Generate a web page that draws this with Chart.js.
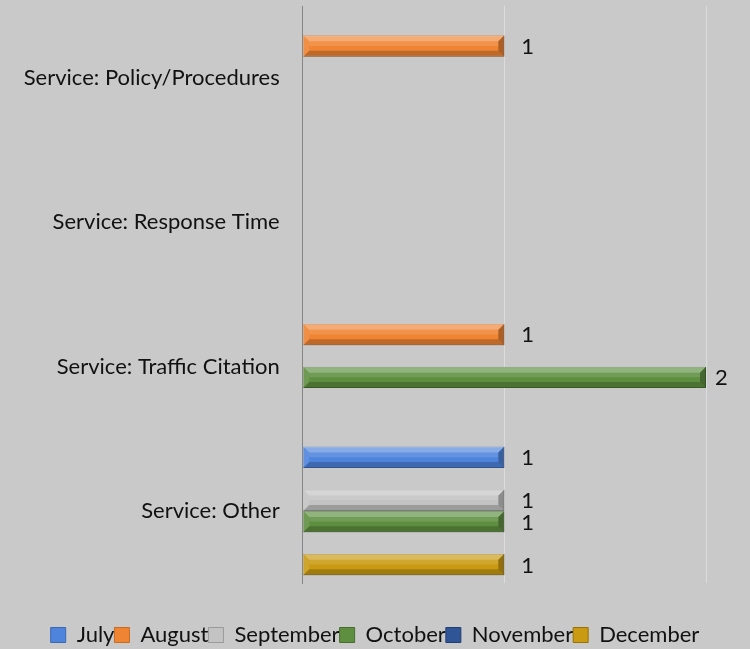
<!DOCTYPE html>
<html>
<head>
<meta charset="utf-8">
<script src="https://cdn.jsdelivr.net/npm/chart.js@4"></script>
<style>
  html, body { margin: 0; padding: 0; background: #c9c9c9; }
  #wrap { width: 750px; height: 649px; }
</style>
</head>
<body>
<div id="wrap"><canvas id="complaints-chart" width="750" height="649"></canvas></div>
<script>
// chart data
const categories = ['Service: Policy/Procedures', 'Service: Response Time',
  'Service: Traffic Citation', 'Service: Other'];
const months = ['July', 'August', 'September', 'October', 'November', 'December'];
const july = [null, null, null, 1];
const august = [1, null, 1, null];
const september = [null, null, null, 1];
const october = [null, null, 2, 1];
const november = [null, null, null, null];
const december = [null, null, null, 1];
const xTicks = [0, 1, 2];

const fills = ['#4e84dc', '#ef8433', '#c3c3c3', '#5e8f40', '#2f5597', '#c99a12'];
const edges = ['#3b68b3', '#c96a22', '#9a9a9a', '#466f2e', '#223f73', '#977107'];
const fontFamily = 'Lato, "Liberation Sans", sans-serif';

// bevel look on every bar, drawn on top of the library's own bar elements
const bevelPlugin = {
  id: 'bevel',
  afterDatasetsDraw(chart) {
    const ctx = chart.ctx;
    chart.data.datasets.forEach((ds, i) => {
      const meta = chart.getDatasetMeta(i);
      meta.data.forEach((bar, j) => {
        if (ds.data[j] == null) return;
        const left = Math.min(bar.base, bar.x);
        const right = Math.max(bar.base, bar.x);
        const top = bar.y - bar.height / 2;
        const bottom = bar.y + bar.height / 2;
        const b = Math.min(6, bar.height / 3);
        const poly = (pts, color) => {
          ctx.beginPath();
          ctx.moveTo(pts[0][0], pts[0][1]);
          pts.slice(1).forEach(p => ctx.lineTo(p[0], p[1]));
          ctx.closePath();
          ctx.fillStyle = color;
          ctx.fill();
        };
        ctx.save();
        poly([[left, top], [right, top], [right - b, top + b], [left + b, top + b]],
          'rgba(255,255,255,0.32)');
        poly([[left + b, top + b], [right - b, top + b], [right - b, bar.y], [left + b, bar.y]],
          'rgba(255,255,255,0.12)');
        poly([[left, bottom], [right, bottom], [right - b, bottom - b], [left + b, bottom - b]],
          'rgba(0,0,0,0.2)');
        poly([[right, top], [right, bottom], [right - b, bottom - b], [right - b, top + b]],
          'rgba(0,0,0,0.28)');
        poly([[left, top], [left + b, top + b], [left + b, bottom - b], [left, bottom]],
          'rgba(255,255,255,0.1)');
        ctx.restore();
      });
    });
  }
};

// value labels at the end of each bar
const valueLabels = {
  id: 'valueLabels',
  afterDatasetsDraw(chart) {
    const ctx = chart.ctx;
    ctx.save();
    ctx.font = '22px ' + fontFamily;
    ctx.fillStyle = '#111';
    ctx.textAlign = 'left';
    ctx.textBaseline = 'middle';
    chart.data.datasets.forEach((ds, i) => {
      chart.getDatasetMeta(i).data.forEach((bar, j) => {
        if (ds.data[j] == null) return;
        const x = Math.min(bar.x + 17, chart.chartArea.right + 9);
        ctx.fillText(String(ds.data[j]), x, bar.y + 1);
      });
    });
    ctx.restore();
  }
};

// center the legend on the whole canvas, not just the padded box
const legendCenter = {
  id: 'legendCenter',
  afterLayout(chart) {
    const lg = chart.legend;
    if (!lg) return;
    lg.left = 0;
    lg.right = chart.width;
    lg.width = chart.width;
  }
};

const series = [july, august, september, october, november, december];

new Chart(document.getElementById('complaints-chart'), {
  type: 'bar',
  data: {
    labels: categories,
    datasets: months.map((m, i) => ({
      label: m,
      data: series[i],
      backgroundColor: fills[i],
      borderColor: edges[i],
      borderWidth: 1,
      categoryPercentage: 0.894,
      barPercentage: 1.0
    }))
  },
  options: {
    indexAxis: 'y',
    responsive: false,
    animation: false,
    layout: { padding: { top: 6, right: 44, left: 0, bottom: -7 } },
    scales: {
      x: {
        min: 0,
        max: 2,
        afterBuildTicks: scale => { scale.ticks = xTicks.map(v => ({ value: v })); },
        ticks: { display: false },
        grid: { color: '#dcdcdc', drawTicks: false },
        border: { display: false },
        afterFit: scale => { scale.height = 41; }
      },
      y: {
        ticks: {
          color: '#111',
          padding: 23,
          font: { family: fontFamily, size: 22 }
        },
        grid: { display: false, drawTicks: false },
        border: { display: true, color: '#858585', width: 1 },
        afterFit: scale => {
          scale.width = 302.7;
          scale.paddingTop = 0;
          scale.paddingBottom = 0;
        }
      }
    },
    plugins: {
      legend: {
        position: 'bottom',
        labels: {
          color: '#111',
          boxWidth: 15,
          boxHeight: 15,
          padding: 0,
          font: { family: fontFamily, size: 22 }
        }
      },
      tooltip: { enabled: false }
    }
  },
  plugins: [bevelPlugin, valueLabels, legendCenter]
});
</script>
</body>
</html>
